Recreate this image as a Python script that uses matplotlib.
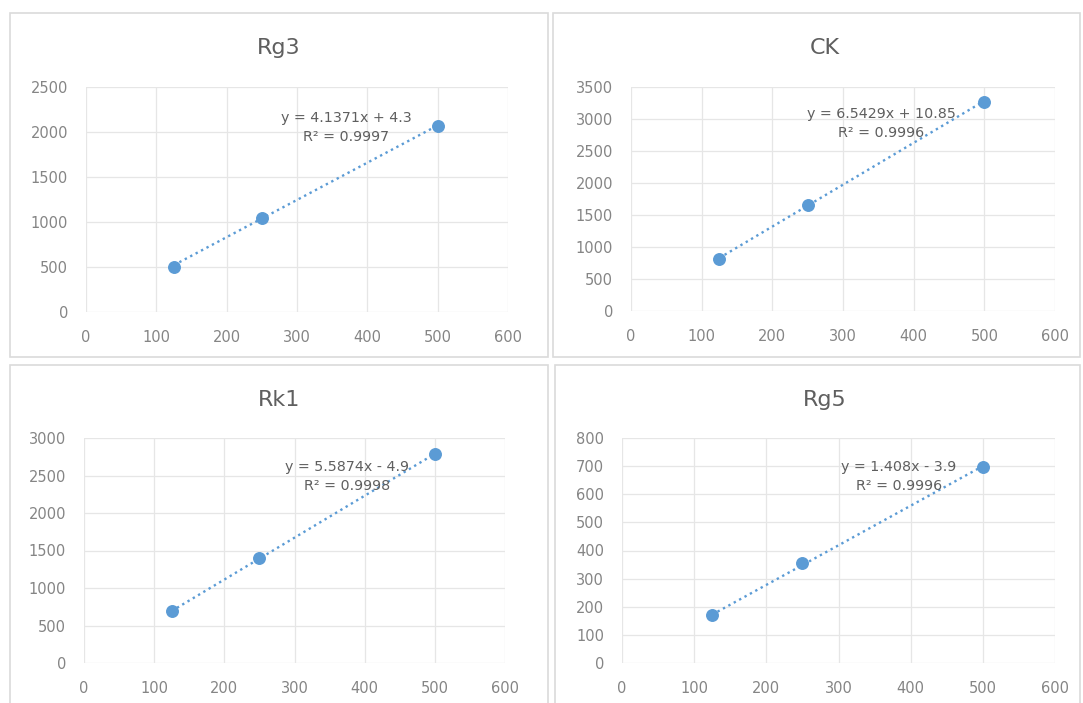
import numpy as np
import matplotlib
matplotlib.use("Agg")
import matplotlib.pyplot as plt
from matplotlib.patches import Rectangle

# Concentration levels (x) and peak responses (y) for each compound
conc = [125, 250, 500]

titles = ["Rg3", "CK", "Rk1", "Rg5"]
rg3_vals = [505, 1045, 2068]
ck_vals = [812, 1662, 3270]
rk1_vals = [690, 1400, 2790]
rg5_vals = [170, 355, 698]

# Linear trendline coefficients and fit quality
slopes = [4.1371, 6.5429, 5.5874, 1.408]
intercepts = [4.3, 10.85, -4.9, -3.9]
r2_vals = ["0.9997", "0.9996", "0.9998", "0.9996"]
eq_labels = ["y = 4.1371x + 4.3", "y = 6.5429x + 10.85",
             "y = 5.5874x - 4.9", "y = 1.408x - 3.9"]

# Axis ranges
y_max = [2500, 3500, 3000, 800]
y_step = [500, 500, 500, 100]
x_ticks = [0, 100, 200, 300, 400, 500, 600]

series = [rg3_vals, ck_vals, rk1_vals, rg5_vals]

W, H = 1083, 703
fig = plt.figure(figsize=(W / 100, H / 100), dpi=100)
fig.patch.set_facecolor("white")

def fx(px):
    return px / W

def fy(py):
    return 1 - py / H

# Chart frames (pixel boxes: left, top, right, bottom)
frames = [(10, 13, 548, 357), (553, 13, 1080, 357),
          (10, 365, 548, 706), (555, 365, 1080, 706)]
for l, t, r, b in frames:
    fig.patches.append(Rectangle((fx(l), fy(b)), fx(r - l), (b - t) / H,
                                 transform=fig.transFigure, fill=False,
                                 edgecolor="#dadada", linewidth=1.2))

# Plot areas (pixel boxes: left, top, right, bottom)
plot_boxes = [(86, 87, 508, 312), (631, 87, 1055, 311),
              (84, 438, 505, 663), (622, 438, 1055, 663)]
title_pos = [(279, 48), (825, 48), (279, 400), (825, 400)]
label_pos = [(0.616, 0.822), (0.59, 0.835), (0.625, 0.831), (0.64, 0.831)]

blue = "#5b9bd5"
grid_c = "#e6e6e6"
text_c = "#5f5f5f"
tick_c = "#858585"

for i in range(4):
    l, t, r, b = plot_boxes[i]
    ax = fig.add_axes([fx(l), fy(b), (r - l) / W, (b - t) / H])
    ax.set_xlim(0, 600)
    ax.set_ylim(0, y_max[i])
    ax.set_xticks(x_ticks)
    ax.set_yticks(np.arange(0, y_max[i] + 1, y_step[i]))
    for s in ax.spines.values():
        s.set_visible(False)
    ax.grid(True, color=grid_c, linewidth=0.9)
    ax.set_axisbelow(True)
    ax.tick_params(length=0, labelsize=10.5, labelcolor=tick_c, pad=13)

    # Trendline from the stated equation
    xs = np.array([conc[0], conc[-1]], dtype=float)
    ax.plot(xs, slopes[i] * xs + intercepts[i], linestyle=(0, (1, 1.6)),
            color=blue, linewidth=1.7, zorder=2)
    ax.plot(conc, series[i], "o", color=blue, markersize=8.3,
            markeredgecolor=blue, zorder=3, clip_on=False)

    lx, ly = label_pos[i]
    ax.text(lx, ly, eq_labels[i] + "\n" + "R² = " + r2_vals[i],
            transform=ax.transAxes, ha="center", va="center",
            fontsize=10.3, color=text_c, linespacing=1.45, zorder=4)

    tx, ty = title_pos[i]
    fig.text(fx(tx), fy(ty), titles[i], ha="center", va="center",
             fontsize=16, color=text_c)

fig.savefig("out.png", dpi=100, facecolor="white")
